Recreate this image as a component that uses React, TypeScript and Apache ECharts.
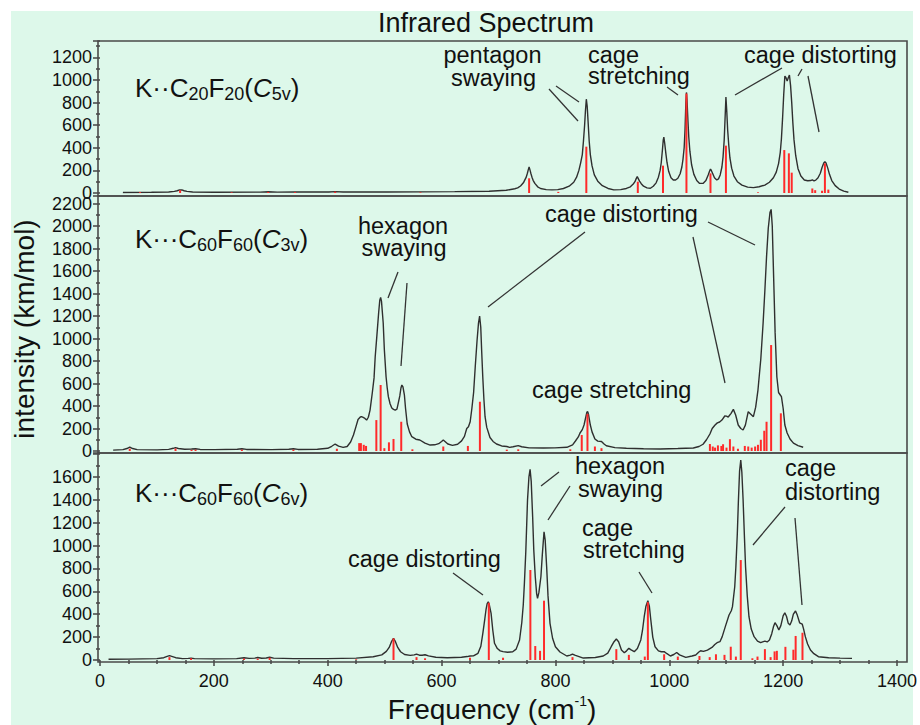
import { useEffect, useRef } from "react";
import * as echarts from "echarts";

// ---------- data (frequency cm-1, intensity km/mol) ----------
const c20Curve: number[][] = [
  [40,5],[90,6],[120,9],[130,14],[135,20],[139,27],[141,28],[143,27],[147,20],[152,14],[162,9],[200,7],[280,8],[294,11],[310,8],[341,9],[400,9],[411,12],[425,9],[500,9],[560,10],[620,12],[680,16],[710,24],[725,38],
  [730,45],[735,62],[740,90],[743,120],[745,140],[747,175],[748.5,205],[750,230],[751.5,205],[753,175],[755,140],[757,112],[760,85],[765,55],[770,40],[780,30],[790,28],[800,30],
  [810,40],[820,60],[828,95],[833,140],[837,200],[840,265],[843,340],[845,460],[847,600],[848.5,730],[850,830],[851.5,770],[853,640],[855,460],[857,340],[860,240],[864,160],[870,105],[878,65],[888,40],[898,28],
  [910,30],[920,40],[927,55],[932,80],[935,100],[937,125],[939,145],[941,125],[943,105],[946,82],[950,60],[956,45],[962,42],
  [967,60],[972,90],[976,140],[979,200],[981,270],[983,380],[984.5,470],[985.5,495],[987,440],[989,350],[991,270],[994,190],[998,135],[1002,115],[1006,115],
  [1010,130],[1014,170],[1017,230],[1019,300],[1021,400],[1022.5,560],[1024,800],[1025,890],[1026,820],[1027.5,650],[1029,500],[1031,370],[1034,250],[1038,165],[1043,110],[1048,85],[1054,85],
  [1059,110],[1063,160],[1065.5,195],[1067,212],[1068.5,200],[1071,170],[1074,135],[1078,115],[1081,125],
  [1084,160],[1087,230],[1089,320],[1091,470],[1092.5,660],[1094,850],[1095.5,720],[1097,560],[1099,420],[1101,310],[1104,220],[1108,150],[1114,100],[1122,70],[1132,52],[1142,48],[1152,55],[1162,70],[1170,95],
  [1177,135],[1182,185],[1186,260],[1189,360],[1191,480],[1193,660],[1195,870],[1197,1035],[1199,1020],[1201,990],[1203,1020],[1205,1044],[1207,950],[1209,800],[1211,620],[1213,470],[1216,330],[1220,215],[1225,150],[1231,115],[1237,108],
  [1242,110],[1245,116],[1248,108],[1251,114],[1255,135],[1259,175],[1262,225],[1265,265],[1267,277],[1269,265],[1272,220],[1275,165],[1279,110],[1285,65],[1292,35],[1300,17],[1308,7]
];
const c20Sticks: number[][] = [
  [70,8],[140,25],[230,6],[294,10],[341,8],[411,12],[560,6],[750,130],[801,10],[850,410],[940,100],[984,242],[1025,880],[1067,174],[1094,419],[1150,6],[1196,380],[1204,351],[1209,180],[1245,40],[1250,25],[1262,20],[1267,262],[1273,30]
];

const c3vCurve: number[][] = [
  [23,8],[40,12],[47,22],[52,35],[57,22],[65,12],[100,10],[120,14],[128,24],[132,30],[137,22],[148,15],[160,18],[167,20],[175,14],[200,12],[240,15],[248,20],[256,14],[300,12],[330,15],[338,20],[346,14],[380,16],[398,24],[405,42],[411,62],[417,44],[425,32],
  [432,40],[438,80],[443,142],[447,210],[451,280],[455,302],[457,305],[460,298],[463,290],[466,275],[469,300],[472,364],[476,520],[479,650],[481,838],[484,1030],[487,1227],[489,1340],[490.5,1365],[492,1330],[495,1138],[497,900],[500,660],[502,560],[504,483],[507,420],[510,382],[513,370],[516,364],[519,372],[521.5,430],[524,490],[526,560],[527.6,587],[529.5,570],[532,500],[534,380],[537,240],[541,170],[545,127],[552,105],[559,98],[568,70],[577,53],[585,55],[592,65],[597,85],[600,98],[603,85],[608,62],[616,50],[625,60],
  [632,90],[637,130],[641,200],[644,215],[647,260],[650,380],[653,520],[656,760],[659,980],[661.5,1135],[663.5,1200],[665.5,1100],[667,900],[669,660],[671,460],[673,305],[676,210],[681.6,120],[687,85],[693,62],[702,45],[711,40],[716,32],[722,38],[731,48],[737,38],[750,28],[775,27],[795,28],[816,33],
  [826,55],[831,89],[836,125],[839,160],[843,190],[846,231],[849,300],[851,345],[852.5,350],[854,320],[857,231],[860,170],[865,107],[870,88],[876.5,85],[881,62],[885,47],[900,30],[920,24],[950,20],[979,18],[1010,22],[1037,27],
  [1047,40],[1054,60],[1060,100],[1066,151],[1070,200],[1075,231],[1079,250],[1083,258],[1087,275],[1092,311],[1095,310],[1098,302],[1103,335],[1107,370],[1111,320],[1115.5,231],[1120,200],[1124,187],[1128,230],[1133,350],[1137,330],[1142,305],[1146,390],
  [1150,542],[1155,820],[1159,1138],[1162,1420],[1165,1727],[1168,1980],[1171,2120],[1173,2148],[1175,2000],[1178,1431],[1180,1050],[1183,660],[1186,520],[1189,498],[1191,483],[1194,380],[1197,231],[1201,160],[1206,107],[1212,70],[1220,48],[1229,33]
];
const c3vSticks: number[][] = [
  [52,20],[132,22],[160,10],[167,12],[248,12],[338,12],[414,20],[453,70],[456,70],[461,55],[465,45],[483,275],[490.5,587],[497,25],[505,77],[513,107],[526.5,260],[546,15],[600,40],[643,45],[664,438],[711,12],[731,15],[822,15],[842,142],[852,330],[865,40],[876.5,25],
  [1066,62],[1071,40],[1075,30],[1080,50],[1086,45],[1089,60],[1095,30],[1101,105],[1107,40],[1115,20],[1127,45],[1133,40],[1139,30],[1145,40],[1150,55],[1155,100],[1161,180],[1165,260],[1173,942],[1190,335]
];

const c6vCurve: number[][] = [
  [15,6],[50,8],[100,12],[112,20],[118,32],[122,38],[126,32],[133,20],[145,12],[155,14],[160,16],[166,12],[200,10],[240,12],[253,20],[262,14],[272,16],[277,22],[284,15],[292,18],[298,24],[305,16],[340,12],[400,12],[450,16],[480,28],[495,45],[503,75],[508,110],[512,160],[515.6,189],[519,160],[523,110],[528,72],[535,48],[545,40],[552,45],[556,52],[561,42],[566,42],[571,46],[577,36],[590,24],[610,20],[635,24],[645,30],[650,35],[656,36],
  [664,58],[669,120],[672.5,233],[676,360],[678,437],[680,490],[682,509],[684,480],[687,407],[690,260],[693,146],[698,100],[703,80],[708,73],[716,68],[725,72],[731,95],[737,175],[741,330],[743.5,480],[745.5,669],[748,950],[751,1397],[753.5,1600],[755.5,1665],[757.5,1560],[760,1251],[762,960],[764.6,727],[767,580],[768.6,538],[771,590],[774.5,727],[777,920],[780,1120],[782,1050],[784.6,814],[787,560],[790.5,320],[795,190],[800,116],[808,70],[820,35],[826,42],[830,52],[834,42],[849,17],[870,22],
  [884,35],[892,60],[898,116],[903,160],[907,183],[911,160],[916,87],[921,64],[925,80],[929,102],[933,88],[938.5,73],[944,100],[950,175],[953,260],[956,378],[959,470],[962.4,518],[965,470],[967.6,349],[971,200],[975,116],[981,80],[986,72],[991,73],[996,55],[1002,35],[1008,48],[1013,66],[1018,45],[1029,23],[1040,35],[1046.5,44],[1052,70],[1055,81],[1060,75],[1067,87],[1075,110],[1080,135],[1084,151],[1089,160],[1093,204],[1099,300],[1105,393],[1109,430],[1111,466],[1115,640],[1117,815],[1119.5,1100],[1121.5,1397],[1123.5,1650],[1125.6,1746],[1127.5,1640],[1129.7,1397],[1132,1080],[1134,815],[1137,560],[1140,378],[1144,270],[1149,204],[1155,165],[1160.5,151],[1164,158],[1168,165],[1172,158],[1176,175],[1180,230],[1183,290],[1185.7,326],[1189,300],[1192.5,262],[1196,300],[1200,385],[1203,413],[1206,380],[1209,320],[1212,306],[1215,340],[1218,400],[1221.8,428],[1225,390],[1229,325],[1233.5,314],[1236,270],[1239,204],[1243,140],[1248,87],[1254,55],[1262,29],[1280,20],[1300,16],[1321,14]
];
const c6vSticks: number[][] = [
  [122,25],[160,15],[253,12],[277,12],[298,20],[450,6],[515.6,189],[556,25],[571,15],[650,20],[683,500],[708,20],[756,786],[764.6,122],[773,80],[780,518],[830,25],[907,95],[929,45],[957,30],[962.4,505],[991,50],[1015,30],[1053,35],[1071,25],[1082,50],[1097,45],[1108,116],[1117,30],[1125.6,873],[1146,15],[1155,30],[1168,95],[1178,25],[1185,75],[1189,80],[1204,115],[1218,90],[1222,210],[1234,238]
];

const curves = [c20Curve, c3vCurve, c6vCurve];
const sticks = [c20Sticks, c3vSticks, c6vSticks];
const yMaxes = [1345, 2267, 1808];
const xMin = 0;
const xMax = 1400;
const xInterval = 200;
const yInterval = 200;

const titleText = "Infrared Spectrum";
const yTitle = "intensity (km/mol)";
const molecules = [
  { dots: "\u00B7\u00B7", n: "20", sym: "5v" },
  { dots: "\u00B7\u00B7\u00B7", n: "60", sym: "3v" },
  { dots: "\u00B7\u00B7\u00B7", n: "60", sym: "6v" },
];

// ---------- layout ----------
const FONT = "'Liberation Sans', Arial, Helvetica, sans-serif";
const GRID_LEFT = 100;
const GRID_W = 801;
const FRAME_L = 98;
const FRAME_R = 907;
const panels = [
  { top: 41, bottom: 193, fTop: 41, fBottom: 196, labelY: 88 },
  { top: 196, bottom: 451, fTop: 196, fBottom: 453, labelY: 239 },
  { top: 453, bottom: 660, fTop: 453, fBottom: 662, labelY: 493 },
];
const ANN_FS = 23.5;
const annotations: { t: string; x: number; y: number; a: string }[] = [
  { t: "pentagon", x: 492.5, y: 55, a: "center" },
  { t: "swaying", x: 493.5, y: 78, a: "center" },
  { t: "cage", x: 588, y: 55, a: "left" },
  { t: "stretching", x: 588, y: 76, a: "left" },
  { t: "cage distorting", x: 744, y: 55, a: "left" },
  { t: "hexagon", x: 403, y: 226, a: "center" },
  { t: "swaying", x: 404, y: 248, a: "center" },
  { t: "cage distorting", x: 545, y: 214, a: "left" },
  { t: "cage stretching", x: 532, y: 390, a: "left" },
  { t: "cage distorting", x: 348, y: 559, a: "left" },
  { t: "hexagon", x: 620, y: 466, a: "center" },
  { t: "swaying", x: 620.5, y: 489, a: "center" },
  { t: "cage", x: 582, y: 528, a: "left" },
  { t: "stretching", x: 583, y: 550, a: "left" },
  { t: "cage", x: 785, y: 468, a: "left" },
  { t: "distorting", x: 785, y: 492, a: "left" },
];
const leaders: number[][] = [
  [549, 89, 578, 121], [556, 86, 579, 102], [667, 87, 678, 95], [782, 68, 735, 95], [802, 69, 798, 76], [808, 76, 819, 132],
  [398, 272, 388, 298], [407, 283, 401, 366], [585, 232, 488, 307], [693, 237, 725, 383], [708, 222, 755, 245],
  [453, 573, 483, 595], [559, 472, 541, 486], [570, 486, 548, 520], [639, 572, 652, 593], [785, 507, 753, 545], [795, 518, 802, 605],
];

export default function App() {
  const ref = useRef<HTMLDivElement>(null);
  useEffect(() => {
    if (!ref.current) return;
    const chart = echarts.init(ref.current, undefined, { renderer: "svg" });

    const grids = panels.map((p) => ({ left: GRID_LEFT, width: GRID_W, top: p.top, height: p.bottom - p.top }));
    const xAxes = panels.map((_, i) => ({
      type: "value", gridIndex: i, min: xMin, max: xMax, interval: xInterval,
      show: i === 2, position: "bottom", offset: 2,
      axisLine: { show: false },
      splitLine: { show: false },
      axisTick: { show: true, inside: false, length: 6, lineStyle: { color: "#444", width: 1.5 } },
      minorTick: { show: true, splitNumber: 4, length: 4, lineStyle: { color: "#444", width: 1.5 } },
      axisLabel: { show: true, fontSize: 18, color: "#111", fontFamily: FONT, margin: 10, formatter: (v: number) => String(v) },
    }));
    const yAxes = panels.map((_, i) => ({
      type: "value", gridIndex: i, min: 0, max: yMaxes[i], interval: yInterval, offset: 2,
      axisLine: { show: false },
      splitLine: { show: false },
      axisTick: { show: true, inside: false, length: 7, lineStyle: { color: "#444", width: 1.5 } },
      minorTick: { show: true, splitNumber: 2, length: 4, lineStyle: { color: "#444", width: 1.5 } },
      axisLabel: {
        fontSize: 18, color: "#111", fontFamily: FONT, margin: 6, showMaxLabel: false, showMinLabel: true,
        formatter: (v: number) => (v > yMaxes[i] - 20 ? "" : String(v)),
      },
    }));

    const series: any[] = [];
    curves.forEach((c, i) => {
      series.push({
        type: "line", xAxisIndex: i, yAxisIndex: i, data: c, showSymbol: false, symbol: "none",
        lineStyle: { color: "#2f2f2f", width: 1.4 }, silent: true, z: 3,
      });
    });
    sticks.forEach((s, i) => {
      series.push({
        type: "bar", xAxisIndex: i, yAxisIndex: i, data: s, barWidth: 2,
        itemStyle: { color: "#ff2a2a" }, silent: true, z: 4,
      });
    });

    const graphics: any[] = [];
    graphics.push({ type: "rect", z: -10, silent: true, shape: { x: 11, y: 11, width: 902, height: 720 }, style: { fill: "#ddf8ea" } });
    panels.forEach((p) => {
      graphics.push({
        type: "rect", z: 20, silent: true,
        shape: { x: FRAME_L, y: p.fTop, width: FRAME_R - FRAME_L, height: p.fBottom - p.fTop },
        style: { fill: "transparent", stroke: "#4a4a4a", lineWidth: 1.6 },
      });
    });
    graphics.push({
      type: "text", z: 20, x: 486, y: 22.5,
      style: { text: titleText, font: `27px ${FONT}`, fill: "#111", align: "center", verticalAlign: "middle", textAlign: "center", textVerticalAlign: "middle" },
    });
    graphics.push({
      type: "text", z: 20, x: 24, y: 329, rotation: Math.PI / 2,
      style: { text: yTitle, font: `28px ${FONT}`, fill: "#111", align: "center", verticalAlign: "middle", textAlign: "center", textVerticalAlign: "middle" },
    });
    graphics.push({
      type: "text", z: 20, x: 492, y: 709,
      style: {
        text: "{n|Frequency (cm}{s|-1}{n|)}",
        align: "center", verticalAlign: "middle", textAlign: "center", textVerticalAlign: "middle",
        rich: {
          n: { fontSize: 28, fontFamily: FONT, fill: "#111", lineHeight: 30 },
          s: { fontSize: 14, fontFamily: FONT, fill: "#111", lineHeight: 13, verticalAlign: "top" },
        },
      },
    });
    molecules.forEach((m, i) => {
      graphics.push({
        type: "text", z: 20, x: 135, y: panels[i].labelY,
        style: {
          text: `{n|K${m.dots}C}{s|${m.n}}{n|F}{s|${m.n}}{n|(}{i|C}{s|${m.sym}}{n|)}`,
          align: "left", verticalAlign: "middle", textAlign: "left", textVerticalAlign: "middle",
          rich: {
            n: { fontSize: 26, fontFamily: FONT, fill: "#111", lineHeight: 30 },
            i: { fontSize: 26, fontFamily: FONT, fontStyle: "italic", fill: "#111", lineHeight: 30 },
            s: { fontSize: 18, fontFamily: FONT, fill: "#111", lineHeight: 12, verticalAlign: "bottom" },
          },
        },
      });
    });
    annotations.forEach((a) => {
      graphics.push({
        type: "text", z: 20, x: a.x, y: a.y,
        style: { text: a.t, font: `${ANN_FS}px ${FONT}`, fill: "#111", align: a.a, verticalAlign: "middle", textAlign: a.a, textVerticalAlign: "middle" },
      });
    });
    leaders.forEach((l) => {
      graphics.push({
        type: "line", z: 20, silent: true,
        shape: { x1: l[0], y1: l[1], x2: l[2], y2: l[3] },
        style: { stroke: "#333", lineWidth: 1.3 },
      });
    });

    chart.setOption({
      animation: false,
      backgroundColor: "#ffffff",
      grid: grids,
      xAxis: xAxes,
      yAxis: yAxes,
      series,
      graphic: { elements: graphics },
    });
    return () => chart.dispose();
  }, []);
  return <div ref={ref} style={{ position: "fixed", left: 0, top: 0, width: 920, height: 725 }} />;
}
